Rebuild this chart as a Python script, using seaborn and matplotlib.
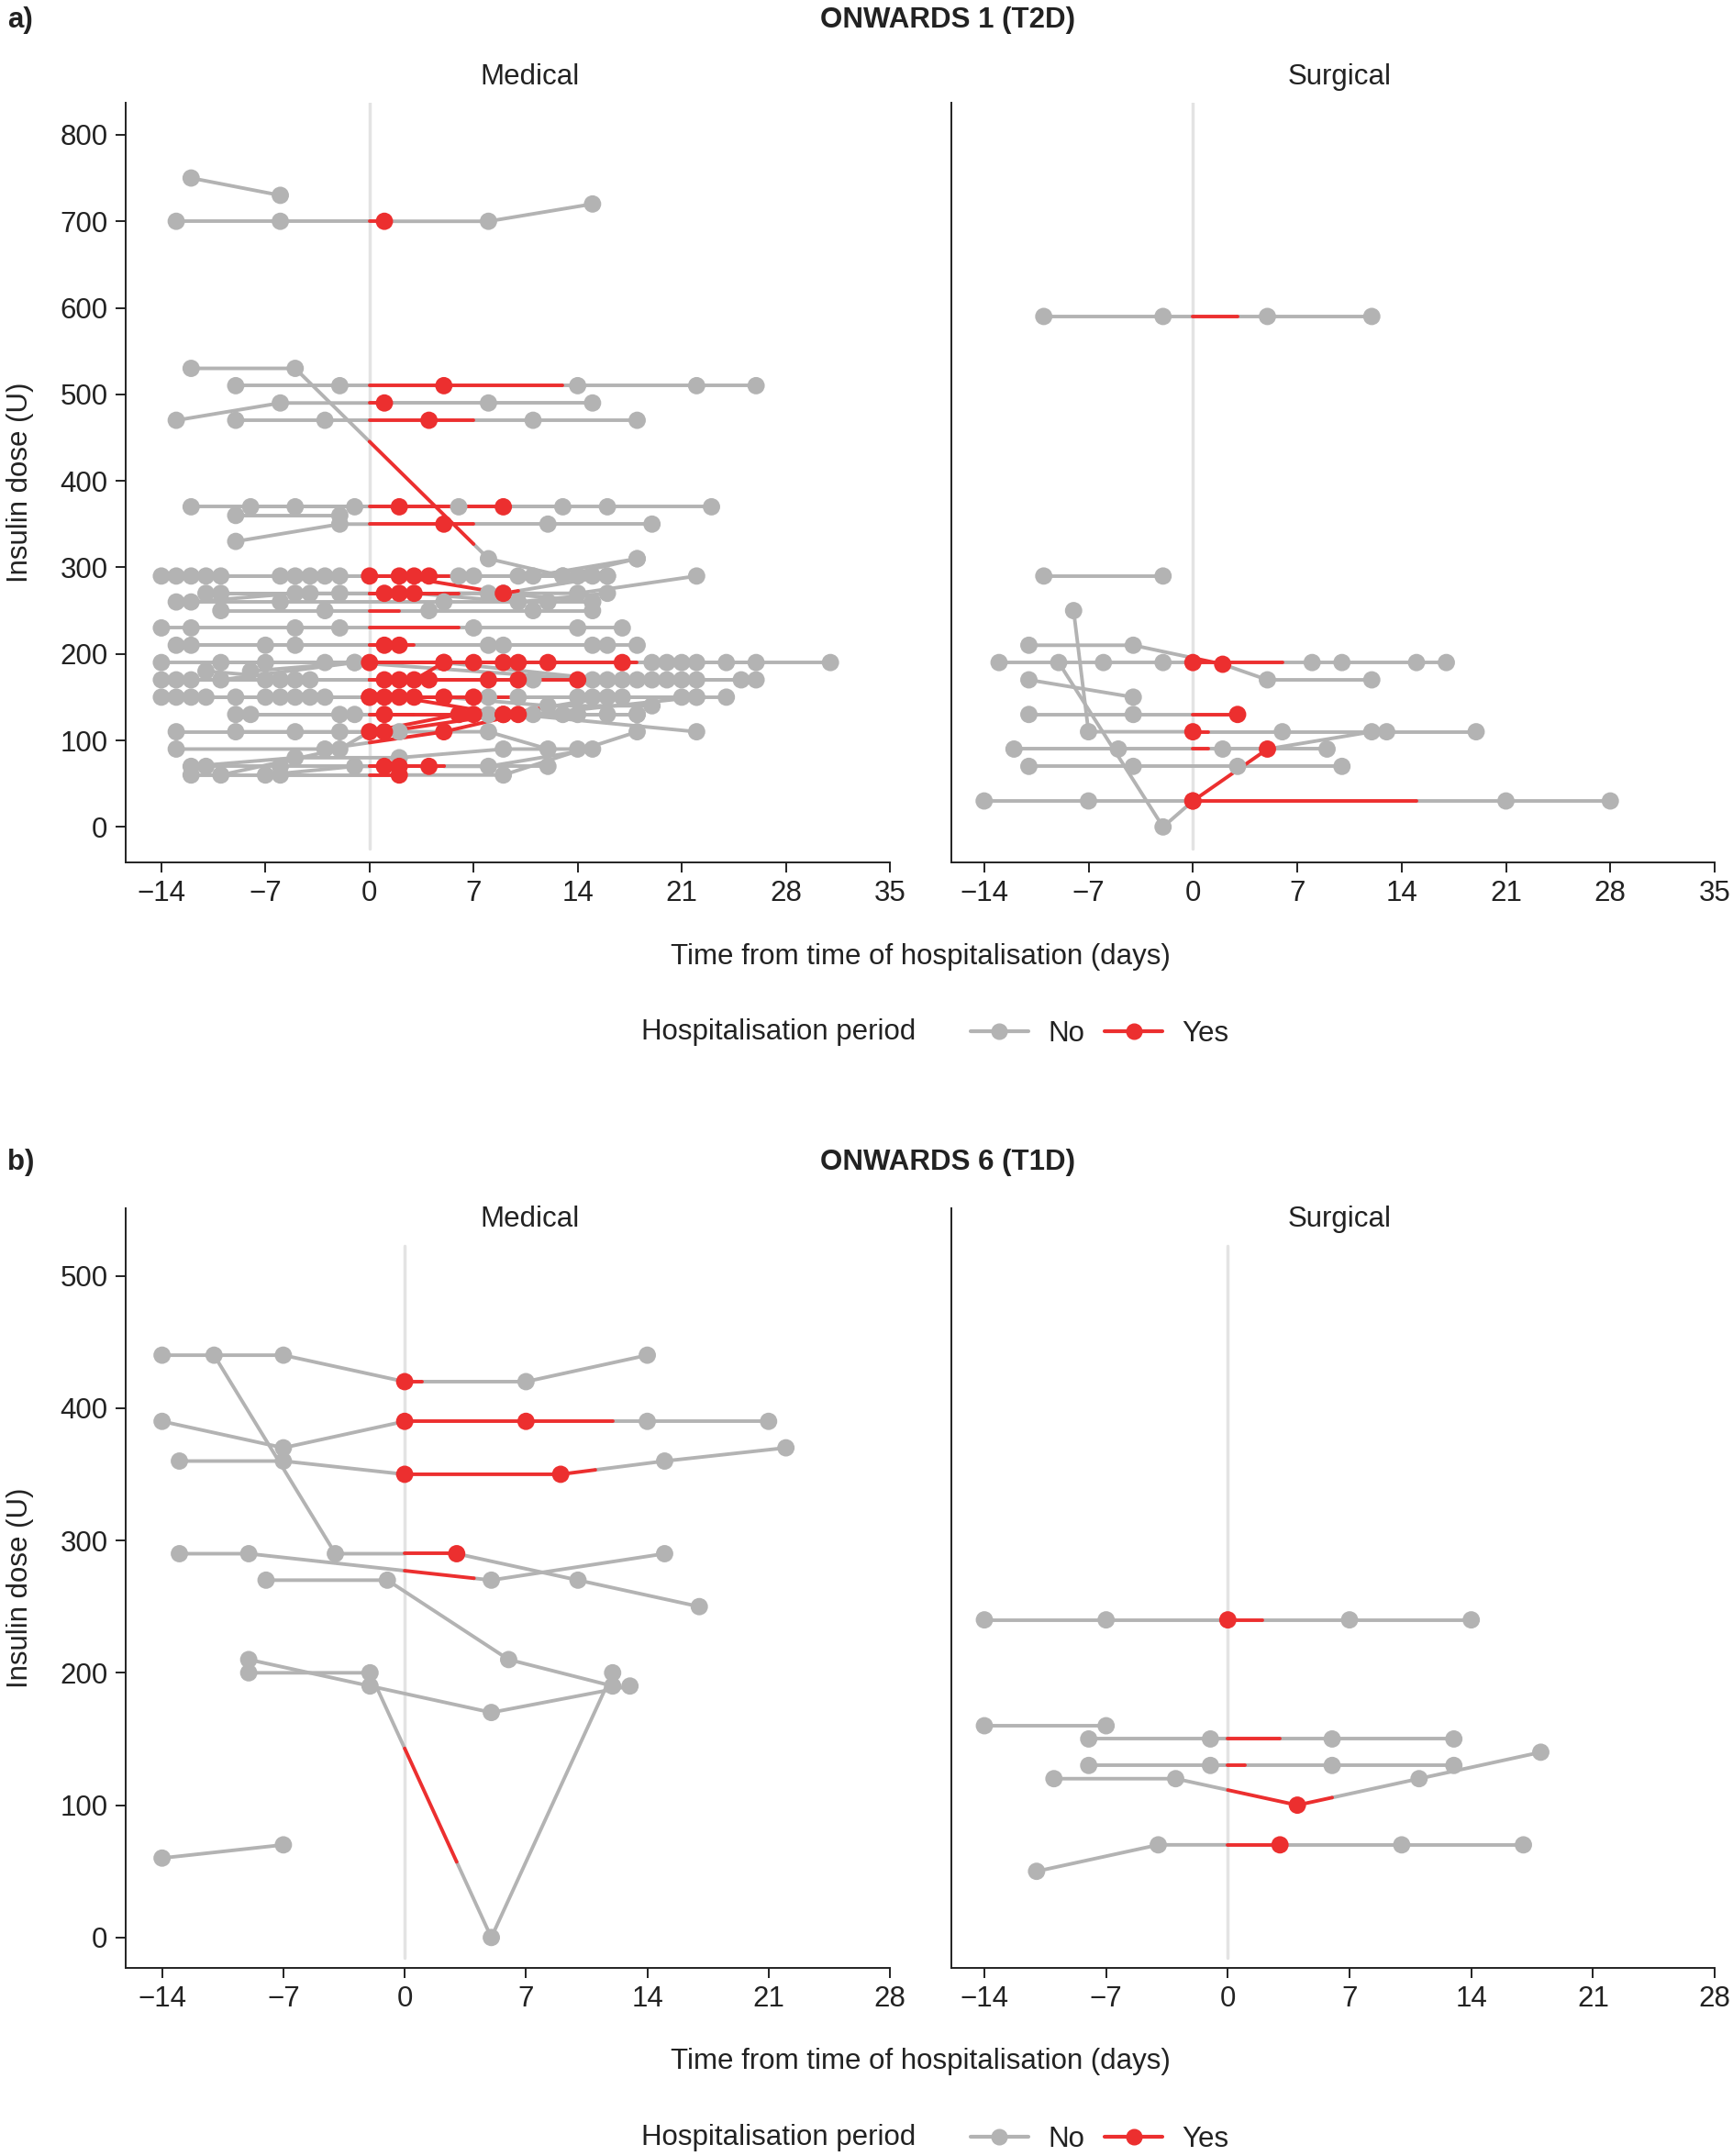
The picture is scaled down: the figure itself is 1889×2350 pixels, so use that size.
import numpy as np
import pandas as pd
import matplotlib
matplotlib.use("Agg")
import matplotlib.pyplot as plt
import seaborn as sns
from matplotlib.lines import Line2D

# ---------------- DATA ----------------
# Panel a) ONWARDS 1 (T2D), Medical: per-patient visit days, doses (U), discharge day
a_med_days = [
    [-12, -6], [-13, -6, 1, 8, 15], [-12, -5, 8, 13, 18], [-9, -2, 5, 14, 22, 26],
    [-13, -6, 1, 8, 15], [-9, -3, 4, 11, 18], [-12, -5, 2, 9, 16, 23], [-8, -1, 6, 13],
    [-9, -2], [-9, -2, 5, 12, 19],
    [-14, -6, 0, 7, 14], [-13, -5, 2, 9, 16], [-12, -4, 3, 10, 15], [-11, -3, 4, 11, 18],
    [-10, -2, 6, 13, 16], [-12, -5, 1, 8, 14, 22], [-11, -2, 2, 9, 15], [-10, -4, 3, 10, 16],
    [-13, -6, 5, 12, 15], [-10, -3, 4, 11, 15], [-14, -12, -5, -2, 7, 14, 17],
    [-13, -7, 1, 8, 15], [-12, -5, 2, 9, 16, 18], [-14, -7, 0, 7, 12, 17, 24, 31],
    [-10, -3, 5, 10, 19, 26], [-8, -1, 9, 20, 21, 22], [-13, -6, 1, 8, 14, 20],
    [-14, -7, 2, 10, 17, 26], [-12, -5, 3, 5, 16, 22], [-11, -4, 4, 11, 18, 25],
    [-10, -1, 15, 19, 21], [-14, -7, 0, 7, 14, 21], [-13, -6, 1, 8, 15, 22],
    [-12, -5, 2, 9, 16], [-11, -4, 3, 10, 17, 24], [-9, -3, 0, 5, 12, 19],
    [-9, -2, 1, 8, 13, 18], [-8, -1, 7, 14, 18], [-13, -5, 1, 9, 16], [-13, -3, 5, 10, 22],
    [-9, -2, 2, 8, 12], [-12, -5, 2, 9, 14], [-11, -6, 1, 2, 8, 15], [-12, -6, 2, 9, 18],
    [-7, -1, 4, 12], [-10, -2, 0, 6, 11, 22],
]
a_med_doses = [
    [750, 730], [700, 700, 700, 700, 720], [530, 530, 310, 290, 310], [510, 510, 510, 510, 510, 510],
    [470, 490, 490, 490, 490], [470, 470, 470, 470, 470], [370, 370, 370, 370, 370, 370], [370, 370, 370, 370],
    [360, 360], [330, 350, 350, 350, 350],
    [290, 290, 290, 290, 290], [290, 290, 290, 270, 290], [290, 290, 290, 290, 290], [290, 290, 290, 290, 310],
    [290, 290, 290, 290, 290], [260, 270, 270, 270, 270, 290], [270, 270, 270, 270, 260], [270, 270, 270, 260, 270],
    [260, 260, 260, 260, 260], [250, 250, 250, 250, 250], [230, 230, 230, 230, 230, 230, 230],
    [210, 210, 210, 210, 210], [210, 210, 210, 210, 210, 210], [190, 190, 190, 190, 190, 190, 190, 190],
    [190, 190, 190, 190, 190, 190], [180, 190, 190, 190, 190, 190], [170, 170, 170, 170, 170, 170],
    [170, 170, 170, 170, 170, 170], [170, 170, 170, 190, 170, 170], [180, 170, 170, 170, 170, 170],
    [170, 190, 170, 170, 170], [150, 150, 150, 150, 150, 150], [150, 150, 150, 150, 150, 150],
    [150, 150, 150, 130, 150], [150, 150, 150, 150, 150, 150], [150, 150, 150, 150, 140, 140],
    [130, 130, 130, 130, 130, 130], [130, 130, 130, 130, 130], [110, 110, 110, 130, 130], [90, 90, 110, 130, 110],
    [110, 110, 110, 110, 90], [70, 80, 80, 90, 90], [70, 70, 70, 70, 70, 90], [60, 60, 60, 60, 110],
    [60, 70, 70, 70], [60, 90, 110, 130, 130, 150],
]
a_med_discharge = [0, 1, 7, 13, 1, 7, 9, 0, 0, 7,
                   4, 10, 6, 4, 0, 6, 5, 3, 0, 2, 6, 3, 2, 18, 10, 9, 14, 10, 5, 4,
                   0, 10, 3, 12, 4, 5, 3, 9, 10, 10, 0, 0, 5, 2, 5, 8]

# Panel a) Surgical
a_sur_days = [
    [-10, -2, 5, 12], [-10, -2], [-8, -7, 0, 6, 13, 19], [-11, -4, 2, 5, 12],
    [-13, -6, -2, 0, 8, 10, 15, 17], [-11, -4], [-11, -4, 3], [-12, -5, 2, 9],
    [-9, -2, 0, 5, 12], [-14, -7, 0, 21, 28], [-11, -4, 3, 10],
]
a_sur_doses = [
    [590, 590, 590, 590], [290, 290], [250, 110, 110, 110, 110, 110], [210, 210, 188, 170, 170],
    [190, 190, 190, 190, 190, 190, 190, 190], [170, 150], [130, 130, 130], [90, 90, 90, 90],
    [190, 0, 30, 90, 110], [30, 30, 30, 30, 30], [70, 70, 70, 70],
]
a_sur_discharge = [3, 0, 1, 2, 6, 0, 3, 1, 5, 15, 0]

# Panel b) ONWARDS 6 (T1D), Medical
b_med_days = [
    [-14, -7, 0, 7, 14], [-11, -4, 3, 10, 17], [-14, -7, 0, 7, 14, 21], [-13, -7, 0, 9, 15, 22],
    [-13, -9, 5, 15], [-8, -1, 6, 12], [-9, -2, 5, 13], [-9, -2, 5, 12], [-14, -7],
]
b_med_doses = [
    [440, 440, 420, 420, 440], [440, 290, 290, 270, 250], [390, 370, 390, 390, 390, 390],
    [360, 360, 350, 350, 360, 370], [290, 290, 270, 290], [270, 270, 210, 190],
    [210, 190, 170, 190], [200, 200, 0, 200], [60, 70],
]
b_med_discharge = [1, 3, 12, 11, 4, 0, 0, 3, 0]

# Panel b) Surgical
b_sur_days = [
    [-14, -7, 0, 7, 14], [-14, -7], [-8, -1, 6, 13], [-8, -1, 6, 13],
    [-10, -3, 4, 11, 18], [-11, -4, 3, 10, 17],
]
b_sur_doses = [
    [240, 240, 240, 240, 240], [160, 160], [150, 150, 150, 150], [130, 130, 130, 130],
    [120, 120, 100, 120, 140], [50, 70, 70, 70, 70],
]
b_sur_discharge = [2, 0, 3, 1, 6, 3]

panel_titles = ["ONWARDS 1 (T2D)", "ONWARDS 6 (T1D)"]
panel_tags = ["a)", "b)"]
facet_labels = ["Medical", "Surgical"]
a_xticks = [-14, -7, 0, 7, 14, 21, 28, 35]
b_xticks = [-14, -7, 0, 7, 14, 21, 28]
a_yticks = [0, 100, 200, 300, 400, 500, 600, 700, 800]
b_yticks = [0, 100, 200, 300, 400, 500]
legend_levels = ["No", "Yes"]

# ---------------- STYLE ----------------
sns.set_theme(style="ticks")
plt.rcParams["font.family"] = ["Liberation Sans", "DejaVu Sans"]
GREY = "#b3b3b3"
RED = "#ec2f2f"
PAL = {"No": GREY, "Yes": RED}
FS = 22.5
W, H = 1889, 2350


def build(days_list, doses_list, disc_list):
    seg_rows, pt_rows = [], []
    sid = 0
    for t, y, d in zip(days_list, doses_list, disc_list):
        t = np.asarray(t, float)
        y = np.asarray(y, float)
        extra = {b for b in (0.0, float(d)) if t[0] < b < t[-1]}
        bps = np.array(sorted(set(t.tolist()) | extra))
        yb = np.interp(bps, t, y)
        cur = None
        for i in range(len(bps) - 1):
            mid = 0.5 * (bps[i] + bps[i + 1])
            st = "Yes" if (d > 0 and 0 <= mid <= d) else "No"
            if st != cur:
                sid += 1
                cur = st
                seg_rows.append(dict(seg=sid, day=bps[i], dose=yb[i], period=st))
            seg_rows.append(dict(seg=sid, day=bps[i + 1], dose=yb[i + 1], period=st))
        for ti, yi in zip(t, y):
            pt_rows.append(dict(day=ti, dose=yi,
                                period="Yes" if (d > 0 and 0 <= ti <= d) else "No"))
    return pd.DataFrame(seg_rows), pd.DataFrame(pt_rows)


def draw(ax, days, doses, disc, xlim, ylim, xticks, yticks, vline_span, show_y):
    seg, pts = build(days, doses, disc)
    ax.axvline(0, color="#e3e3e3", lw=2.5, ymin=vline_span[0], ymax=vline_span[1], zorder=0)
    sns.lineplot(data=seg, x="day", y="dose", units="seg", estimator=None, hue="period",
                 hue_order=["No", "Yes"], palette=PAL, sort=False, lw=2.8,
                 legend=False, ax=ax, zorder=2)
    pts = pts.sort_values("period", kind="stable")
    sns.scatterplot(data=pts, x="day", y="dose", hue="period", hue_order=["No", "Yes"],
                    palette=PAL, s=185, linewidth=0, legend=False, ax=ax, zorder=3)
    ax.set_xlim(*xlim)
    ax.set_ylim(*ylim)
    ax.set_xticks(xticks)
    ax.set_yticks(yticks)
    ax.set_xlabel("")
    ax.set_ylabel("")
    sns.despine(ax=ax)
    for s in ("left", "bottom"):
        ax.spines[s].set_linewidth(1.4)
        ax.spines[s].set_color("#222222")
    ax.tick_params(axis="both", labelsize=FS, length=8, width=1.4, color="#222222",
                   labelcolor="#222222", pad=6)
    if not show_y:
        ax.tick_params(axis="y", left=False, labelleft=False)


fig = plt.figure(figsize=(W / 100, H / 100), dpi=100)


def add_ax(x0, y0, x1, y1):
    return fig.add_axes([x0 / W, 1 - y1 / H, (x1 - x0) / W, (y1 - y0) / H])


def fx(px):
    return px / W


def fy(py):
    return 1 - py / H


# ----- panel a -----
ax1 = add_ax(137, 112, 970, 940)
ax2 = add_ax(1037, 112, 1869, 940)
draw(ax1, a_med_days, a_med_doses, a_med_discharge, (-16.4, 35), (-41, 837),
     a_xticks, a_yticks, (0.018, 1.0), True)
draw(ax2, a_sur_days, a_sur_doses, a_sur_discharge, (-16.2, 35), (-41, 837),
     a_xticks, a_yticks, (0.018, 1.0), False)

# ----- panel b -----
ax3 = add_ax(137, 1317, 970, 2145)
ax4 = add_ax(1037, 1317, 1869, 2145)
draw(ax3, b_med_days, b_med_doses, b_med_discharge, (-16.1, 28), (-23, 551),
     b_xticks, b_yticks, (0.013, 0.951), True)
draw(ax4, b_sur_days, b_sur_doses, b_sur_discharge, (-15.9, 28), (-23, 551),
     b_xticks, b_yticks, (0.013, 0.951), False)

tc = "#222222"
for (top, xl_y, leg_y, tag, title) in [(0, 1043, 1125, panel_tags[0], panel_titles[0]),
                                         (1245, 2247, 2330, panel_tags[1], panel_titles[1])]:
    fig.text(fx(8), fy(22 + top), tag, fontsize=FS, fontweight="bold", color=tc,
             ha="left", va="center")
    fig.text(fx(1033), fy(22 + top), title, fontsize=FS, fontweight="bold", color=tc,
             ha="center", va="center")
    fig.text(fx(578), fy(84 + top), facet_labels[0], fontsize=FS, color=tc,
             ha="center", va="center")
    fig.text(fx(1460), fy(84 + top), facet_labels[1], fontsize=FS, color=tc,
             ha="center", va="center")
    fig.text(fx(1003), fy(xl_y), "Time from time of hospitalisation (days)", fontsize=FS,
             color=tc, ha="center", va="center")
    fig.text(fx(22), fy(((112 if top == 0 else 1317) + (940 if top == 0 else 2145)) / 2),
             "Insulin dose (U)", fontsize=FS, color=tc, rotation=90, ha="center", va="center")
    fig.text(fx(849), fy(leg_y), "Hospitalisation period", fontsize=FS, color=tc,
             ha="center", va="center")
    handles = [Line2D([], [], color=PAL[k], lw=3, marker="o", markersize=12) for k in legend_levels]
    fig.legend(handles, legend_levels, loc="center left",
               bbox_to_anchor=(fx(1030), fy(leg_y + 2)), ncol=2, frameon=False,
               fontsize=FS, handlelength=2.0, handletextpad=0.7, columnspacing=0.7,
               labelcolor=tc)

fig.savefig("out.png", dpi=100, facecolor="white")
